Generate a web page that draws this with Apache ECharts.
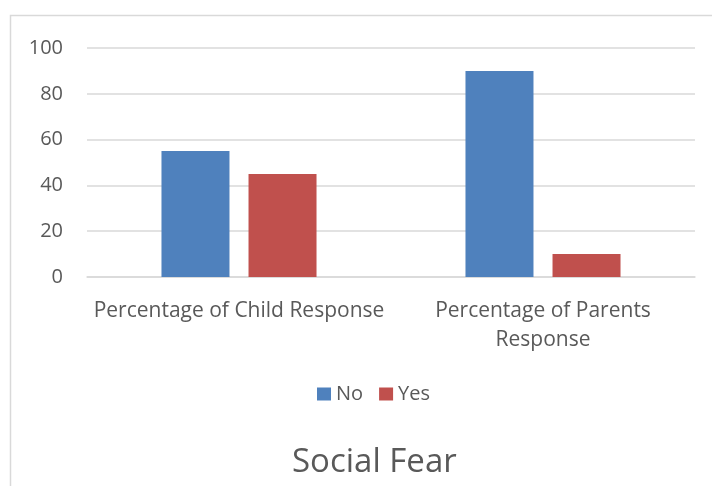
<!DOCTYPE html>
<html>
<head>
<meta charset="utf-8">
<script src="https://cdn.jsdelivr.net/npm/echarts@6/dist/echarts.min.js"></script>
<style>
  html, body { margin: 0; padding: 0; background: #fff; }
  #chart { width: 712px; height: 486px; }
</style>
</head>
<body>
<div id="chart"></div>
<script>
// Survey responses on social fear, in percent
const categories = ['Percentage of Child Response', 'Percentage of Parents\nResponse'];
const noValues = [55, 90];
const yesValues = [45, 10];
const yTicks = [0, 20, 40, 60, 80, 100];
const chartTitle = 'Social Fear';

const FONT = 'Open Sans';
const TEXT = '#595959';
const GRID = '#d9d9d9';

const chart = echarts.init(document.getElementById('chart'), null, { renderer: 'canvas' });
chart.setOption({
  animation: false,
  backgroundColor: '#ffffff',
  textStyle: { fontFamily: FONT },
  graphic: [{
    type: 'rect',
    shape: { x: 10.5, y: 15.5, width: 720, height: 500 },
    style: { fill: 'none', stroke: '#d9d9d9', lineWidth: 1.5 },
    silent: true,
    z: -1
  }],
  title: {
    text: chartTitle,
    left: 287,
    top: 441,
    textStyle: { fontFamily: FONT, fontSize: 33, fontWeight: 'normal', color: TEXT }
  },
  legend: {
    data: ['No', 'Yes'],
    left: 312,
    top: 379,
    itemWidth: 14,
    itemHeight: 13,
    itemGap: 16,
    icon: 'rect',
    textStyle: { fontFamily: FONT, fontSize: 20, color: TEXT }
  },
  grid: { left: 87, right: 17, top: 48, bottom: 209, containLabel: false },
  xAxis: {
    type: 'category',
    data: categories,
    axisLine: { lineStyle: { color: GRID, width: 1.5 } },
    axisTick: { show: false },
    axisLabel: {
      color: TEXT, fontFamily: FONT, fontSize: 21, lineHeight: 29, margin: 20,
      interval: 0, align: 'center'
    }
  },
  yAxis: {
    type: 'value',
    min: yTicks[0],
    max: yTicks[yTicks.length - 1],
    interval: 20,
    axisLine: { show: false },
    axisTick: { show: false },
    splitLine: { lineStyle: { color: GRID, width: 1.5 } },
    axisLabel: { color: TEXT, fontFamily: FONT, fontSize: 20, margin: 24 }
  },
  series: [
    {
      name: 'No', type: 'bar', data: noValues,
      barWidth: 68, barGap: '28%',
      itemStyle: { color: '#4f81bd' }
    },
    {
      name: 'Yes', type: 'bar', data: yesValues,
      barWidth: 68,
      itemStyle: { color: '#c0504d' }
    }
  ]
});
</script>
</body>
</html>
